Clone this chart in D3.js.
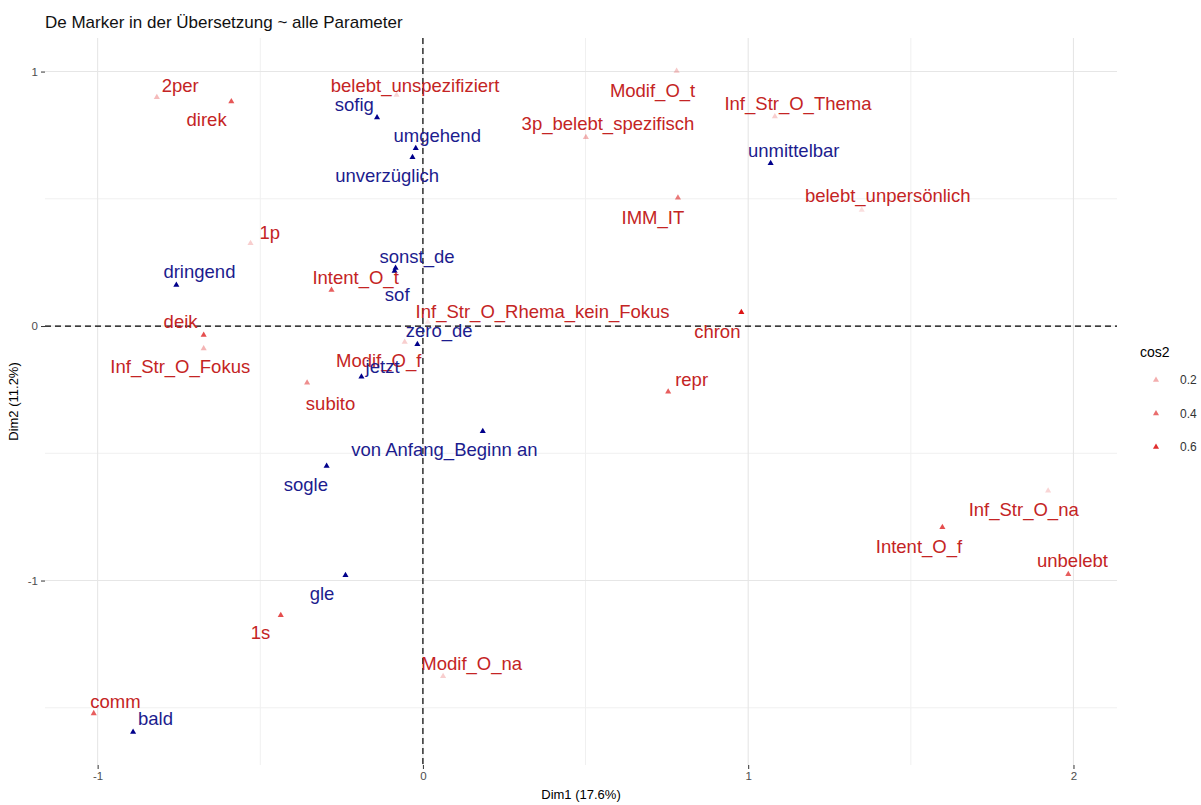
<!DOCTYPE html>
<html>
<head>
<meta charset="utf-8">
<script src="https://cdn.jsdelivr.net/npm/d3@7"></script>
<style>
  body { margin: 0; background: #ffffff; }
  svg { display: block; font-family: "Liberation Sans", Arial, sans-serif; }
</style>
</head>
<body>
<svg id="chart" width="1201" height="805"></svg>
<script>
// Active categories (MCA coordinates on Dim1/Dim2, with cos2 quality)
const activeNames = ["2per", "direk", "belebt_unspezifiziert", "Modif_O_t", "Inf_Str_O_Thema",
  "3p_belebt_spezifisch", "IMM_IT", "belebt_unpersönlich", "1p", "Intent_O_t", "deik",
  "Inf_Str_O_Fokus", "subito", "Modif_O_f", "Inf_Str_O_Rhema_kein_Fokus", "chron", "repr",
  "Inf_Str_O_na", "Intent_O_f", "unbelebt", "1s", "Modif_O_na", "comm"];
const activeDim1 = [-0.818, -0.589, -0.081, 0.780, 1.082, 0.501, 0.784, 1.349, -0.530, -0.281, -0.674,
  -0.674, -0.356, -0.056, 0.015, 0.979, 0.754, 1.922, 1.597, 1.984, -0.437, 0.062, -1.012];
const activeDim2 = [0.899, 0.882, 0.908, 1.002, 0.823, 0.742, 0.504, 0.456, 0.325, 0.142, -0.035,
  -0.088, -0.223, -0.063, 0.016, 0.054, -0.258, -0.647, -0.791, -0.975, -1.136, -1.376, -1.522];
const activeCos2 = [0.16, 0.47, 0.08, 0.12, 0.10, 0.18, 0.36, 0.05, 0.10, 0.45, 0.50,
  0.18, 0.30, 0.10, 0.02, 0.68, 0.45, 0.08, 0.50, 0.45, 0.50, 0.10, 0.45];
// Repelled label anchors for the active categories
const activeLabelDim1 = [-0.746, -0.665, -0.024, 0.706, 1.153, 0.569, 0.707, 1.429, -0.471, -0.207, -0.745,
  -0.746, -0.284, -0.136, 0.368, 0.905, 0.826, 1.847, 1.525, 1.997, -0.499, 0.150, -0.945];
const activeLabelDim2 = [0.947, 0.810, 0.947, 0.925, 0.875, 0.797, 0.427, 0.511, 0.366, 0.189, 0.017,
  -0.160, -0.303, -0.134, 0.056, -0.022, -0.212, -0.721, -0.865, -0.920, -1.206, -1.326, -1.477];

// Supplementary categories (the markers themselves)
const supNames = ["sofig", "umgehend", "unverzüglich", "unmittelbar", "dringend", "sonst_de", "sof",
  "zero_de", "jetzt", "von Anfang_Beginn an", "sogle", "gle", "bald"];
const supDim1 = [-0.141, -0.022, -0.032, 1.069, -0.758, -0.084, -0.087, -0.017, -0.189, 0.184, -0.296, -0.238, -0.891];
const supDim2 = [0.819, 0.699, 0.663, 0.640, 0.161, 0.228, 0.216, -0.072, -0.199, -0.413, -0.550, -0.979, -1.595];
const supLabelDim1 = [-0.211, 0.044, -0.110, 1.140, -0.687, -0.018, -0.079, 0.050, -0.124, 0.066, -0.360, -0.310, -0.822];
const supLabelDim2 = [0.869, 0.747, 0.590, 0.689, 0.213, 0.275, 0.122, -0.018, -0.160, -0.487, -0.621, -1.051, -1.542];

// Axis ticks and legend breaks
const xMajor = [-1, 0, 1, 2];
const xMinor = [-0.5, 0.5, 1.5];
const yMajor = [-1, 0, 1];
const yMinor = [-1.5, -0.5, 0.5];
const legendBreaks = [0.2, 0.4, 0.6];

const titleText = "De Marker in der Übersetzung ~ alle Parameter";
const xTitle = "Dim1 (17.6%)";
const yTitle = "Dim2 (11.2%)";

const svg = d3.select("#chart");
const panel = { left: 45, right: 1117, top: 38, bottom: 765 };

// ggplot-style 5% expansion of the data range
function expand(ext) {
  const pad = (ext[1] - ext[0]) * 0.05;
  return [ext[0] - pad, ext[1] + pad];
}
const allX = activeDim1.concat(supDim1);
const allY = activeDim2.concat(supDim2);
const x = d3.scaleLinear().domain(expand(d3.extent(allX))).range([panel.left, panel.right]);
const y = d3.scaleLinear().domain(expand(d3.extent(allY))).range([panel.bottom, panel.top]);
const alpha = d3.scaleLinear().domain(d3.extent(activeCos2)).range([0.1, 1]).clamp(true);

const activeColor = "#dc1414";
const activeText = "#c42424";
const supColor = "#00008b";
const supText = "#1c1c8e";

// Grid
const grid = svg.append("g");
grid.selectAll(".vmin").data(xMinor).join("line")
  .attr("x1", d => x(d)).attr("x2", d => x(d)).attr("y1", panel.top).attr("y2", panel.bottom)
  .attr("stroke", "#f0f0f0").attr("stroke-width", 1);
grid.selectAll(".hmin").data(yMinor).join("line")
  .attr("y1", d => y(d)).attr("y2", d => y(d)).attr("x1", panel.left).attr("x2", panel.right)
  .attr("stroke", "#f0f0f0").attr("stroke-width", 1);
grid.selectAll(".vmaj").data(xMajor).join("line")
  .attr("x1", d => x(d)).attr("x2", d => x(d)).attr("y1", panel.top).attr("y2", panel.bottom)
  .attr("stroke", "#e6e6e6").attr("stroke-width", 1.1);
grid.selectAll(".hmaj").data(yMajor).join("line")
  .attr("y1", d => y(d)).attr("y2", d => y(d)).attr("x1", panel.left).attr("x2", panel.right)
  .attr("stroke", "#e6e6e6").attr("stroke-width", 1.1);

// Reference lines through the origin
svg.append("line")
  .attr("x1", x(0)).attr("x2", x(0)).attr("y1", panel.top).attr("y2", panel.bottom)
  .attr("stroke", "#000").attr("stroke-width", 1.2).attr("stroke-dasharray", "6,4");
svg.append("line")
  .attr("y1", y(0)).attr("y2", y(0)).attr("x1", panel.left).attr("x2", panel.right)
  .attr("stroke", "#000").attr("stroke-width", 1.2).attr("stroke-dasharray", "6,4");

// Axes (ticks + labels, no domain line)
const xAxis = d3.axisBottom(x).tickValues(xMajor).tickSize(4).tickPadding(3).tickFormat(d3.format("d"));
const yAxis = d3.axisLeft(y).tickValues(yMajor).tickSize(4).tickPadding(3).tickFormat(d3.format("d"));
const gx = svg.append("g").attr("transform", `translate(0,${panel.bottom})`).call(xAxis);
const gy = svg.append("g").attr("transform", `translate(${panel.left},0)`).call(yAxis);
[gx, gy].forEach(g => {
  g.select(".domain").remove();
  g.selectAll(".tick line").attr("stroke", "#333333");
  g.selectAll(".tick text").attr("fill", "#4d4d4d").style("font-size", "11.5px")
    .style("font-family", "'Liberation Sans', Arial, sans-serif")
    .text(d => d < 0 ? "-" + Math.abs(d) : String(d));
});

// Triangle marks
const tri = d3.symbol().type(d3.symbolTriangle).size(16);
const active = activeNames.map((n, i) => ({ n, x: activeDim1[i], y: activeDim2[i], c: activeCos2[i],
  lx: activeLabelDim1[i], ly: activeLabelDim2[i] }));
const sup = supNames.map((n, i) => ({ n, x: supDim1[i], y: supDim2[i], lx: supLabelDim1[i], ly: supLabelDim2[i] }));

svg.append("g").selectAll("path").data(active).join("path")
  .attr("d", tri).attr("transform", d => `translate(${x(d.x)},${y(d.y)})`)
  .attr("fill", activeColor).attr("fill-opacity", d => alpha(d.c));
svg.append("g").selectAll("path").data(sup).join("path")
  .attr("d", tri).attr("transform", d => `translate(${x(d.x)},${y(d.y)})`)
  .attr("fill", supColor);

// Labels
const labelSize = "18.5px";
svg.append("g").selectAll("text").data(active).join("text")
  .attr("x", d => x(d.lx)).attr("y", d => y(d.ly))
  .attr("text-anchor", "middle").attr("dominant-baseline", "central")
  .attr("fill", activeText).style("font-size", labelSize).text(d => d.n);
svg.append("g").selectAll("text").data(sup).join("text")
  .attr("x", d => x(d.lx)).attr("y", d => y(d.ly))
  .attr("text-anchor", "middle").attr("dominant-baseline", "central")
  .attr("fill", supText).style("font-size", labelSize).text(d => d.n);

// Titles
svg.append("text").attr("x", panel.left).attr("y", 28)
  .style("font-size", "17px").attr("fill", "#111").text(titleText);
svg.append("text").attr("x", (panel.left + panel.right) / 2).attr("y", 799)
  .attr("text-anchor", "middle").style("font-size", "13px").attr("fill", "#000").text(xTitle);
svg.append("text")
  .attr("transform", `translate(18,${(panel.top + panel.bottom) / 2}) rotate(-90)`)
  .attr("text-anchor", "middle").style("font-size", "13px").attr("fill", "#000").text(yTitle);

// Legend for cos2 (alpha)
const legend = svg.append("g").attr("transform", "translate(1140,0)");
legend.append("text").attr("x", 0).attr("y", 357).style("font-size", "14px").attr("fill", "#000").text("cos2");
const ly = d3.scalePoint().domain(legendBreaks).range([380, 447]);
legend.selectAll("path").data(legendBreaks).join("path")
  .attr("d", tri).attr("transform", d => `translate(16,${ly(d)})`)
  .attr("fill", activeColor).attr("fill-opacity", d => alpha(d));
legend.selectAll(".lab").data(legendBreaks).join("text")
  .attr("x", 40).attr("y", d => ly(d)).attr("dominant-baseline", "central")
  .style("font-size", "12px").attr("fill", "#333").text(d => d3.format(".1f")(d));
</script>
</body>
</html>
